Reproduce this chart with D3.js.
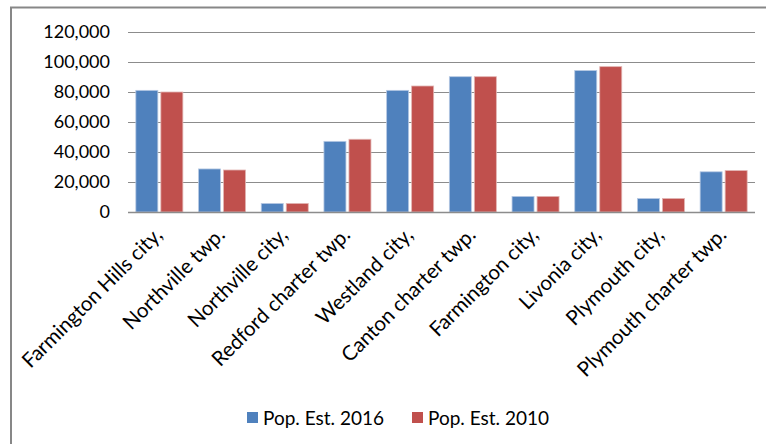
<!DOCTYPE html>
<html>
<head>
<meta charset="utf-8">
<script src="https://cdn.jsdelivr.net/npm/d3@7"></script>
<style>
  body { margin: 0; background: #fff; }
  text { font-family: Lato, "Open Sans", sans-serif; fill: #000; }
</style>
</head>
<body>
<script>
const width = 766
const height = 444

// Data
const places = ["Farmington Hills city,", "Northville twp.", "Northville city,", "Redford charter twp.",
    "Westland city,", "Canton charter twp.", "Farmington city,", "Livonia city,", "Plymouth city,",
    "Plymouth charter twp."];
const pop2016 = [81100, 28700, 5700, 47100, 81100, 90200, 10400, 94300, 9000, 26800];
const pop2010 = [80000, 28000, 5700, 48500, 84000, 90200, 10400, 96900, 9000, 27600];
const seriesNames = ["Pop. Est. 2016", "Pop. Est. 2010"];
const seriesColors = ["#4f81bd", "#c0504d"];
const yTicks = [0, 20000, 40000, 60000, 80000, 100000, 120000];

const svg = d3.select("body").append("svg")
    .attr("width", width)
    .attr("height", height);

// Outer chart frame (cut off at right and bottom)
svg.append("path")
    .attr("d", "M11,444 V7.5 H766")
    .attr("fill", "none")
    .attr("stroke", "#878787")
    .attr("stroke-width", 2);

const margin = {left: 128, right: 11, top: 32, bottom: 232};

const x = d3.scaleBand()
    .domain(places)
    .range([margin.left, width - margin.right])
    .paddingInner(0.25)
    .paddingOuter(0.125);

const xs = d3.scaleBand()
    .domain(seriesNames)
    .range([0, x.bandwidth()])
    .paddingInner(0.12);

const y = d3.scaleLinear()
    .domain([0, 120000])
    .range([height - margin.bottom, margin.top]);

// Gridlines
svg.append("g")
    .selectAll("line")
    .data(yTicks)
    .join("line")
    .attr("x1", margin.left)
    .attr("x2", width - margin.right)
    .attr("y1", d => Math.round(y(d)) + 0.5)
    .attr("y2", d => Math.round(y(d)) + 0.5)
    .attr("stroke", "#8c8c8c")
    .attr("stroke-width", 1.2);

// Y axis labels
const fmt = d3.format(",");
svg.append("g")
    .selectAll("text")
    .data(yTicks)
    .join("text")
    .attr("x", 110)
    .attr("y", d => y(d))
    .attr("dy", "0.36em")
    .attr("text-anchor", "end")
    .style("font-size", "18px")
    .text(d => fmt(d));

// Bars
const rows = places.map((p, i) => ({place: p, vals: [pop2016[i], pop2010[i]]}));

svg.append("g")
    .selectAll("g")
    .data(rows)
    .join("g")
    .attr("transform", d => `translate(${x(d.place)},0)`)
    .selectAll("rect")
    .data(d => d.vals.map((v, k) => ({name: seriesNames[k], value: v, k: k})))
    .join("rect")
    .attr("x", d => xs(d.name))
    .attr("width", xs.bandwidth())
    .attr("y", d => y(d.value))
    .attr("height", d => y(0) - y(d.value))
    .attr("fill", d => seriesColors[d.k])
    .attr("stroke", d => d.k == 0 ? "#b7c9e3" : "#e2b5b3")
    .attr("stroke-width", 0.8);

// Baseline
svg.append("line")
    .attr("x1", margin.left)
    .attr("x2", width - margin.right)
    .attr("y1", y(0) + 0.5)
    .attr("y2", y(0) + 0.5)
    .attr("stroke", "#8c8c8c")
    .attr("stroke-width", 1.5);

// Category labels, rotated
svg.append("g")
    .selectAll("text")
    .data(places)
    .join("text")
    .attr("transform", d => `translate(${x(d) + x.bandwidth() / 2 - 1},${y(0) + 19}) rotate(-45)`)
    .attr("text-anchor", "end")
    .attr("dy", "0.35em")
    .style("font-size", "20.5px")
    .text(d => d);

// Legend
const legendX = [247, 412];
const legend = svg.append("g")
    .selectAll("g")
    .data(seriesNames)
    .join("g")
    .attr("transform", (d, i) => `translate(${legendX[i]},412)`);

legend.append("rect")
    .attr("width", 11)
    .attr("height", 11)
    .attr("fill", (d, i) => seriesColors[i]);

legend.append("text")
    .attr("x", 16)
    .attr("y", 6)
    .attr("dy", "0.36em")
    .style("font-size", "19px")
    .text(d => d);
</script>
</body>
</html>
